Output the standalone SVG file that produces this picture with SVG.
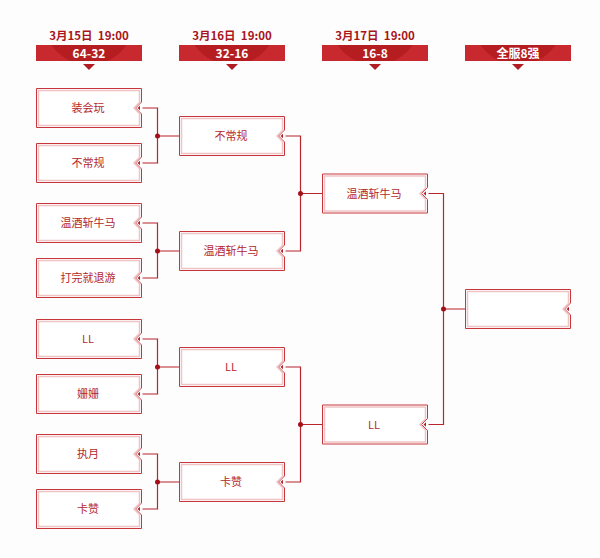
<svg xmlns="http://www.w3.org/2000/svg" xmlns:xlink="http://www.w3.org/1999/xlink" width="600" height="558" viewBox="0 0 600 558">
<style>
.bg{fill:#fdfdfd}
.outer{fill:#ffffff;stroke:#c6363b;stroke-width:1}
.inner{fill:none;stroke:#f0c3c5;stroke-width:1.5}
.tri{fill:#b3222a}
.lbl{font-family:"Noto Sans CJK SC","Noto Sans",sans-serif;font-size:11px;fill:#b3282d;text-anchor:middle}
.date{font-family:"Noto Sans CJK SC","Noto Sans",sans-serif;font-size:11.5px;font-weight:bold;fill:#a8151b;text-anchor:middle;white-space:pre}
.btxt{font-family:"Noto Sans CJK SC","Noto Sans",sans-serif;font-size:12px;font-weight:bold;fill:#ffffff;text-anchor:middle}
.bar{fill:#c8292e}
.barc{fill:#b51d21}
.arrow{fill:#b01d22}
.conn{fill:none;stroke:#b8252b;stroke-width:1.2}
.dot{fill:#a3101a}
</style>
<defs>
<g id="box">
<path class="outer" d="M0.5,0.5 H105.5 V14 L99.5,20 L105.5,26 V39.5 H0.5 Z"/>
<path class="inner" d="M2.5,2.5 H103.5 V14.5 L98,20 L103.5,25.5 V37.5 H2.5 Z"/>
<path class="tri" d="M101.5,20 L104,17.8 V22.2 Z"/>
</g>
<g id="banner">
<rect class="bar" x="0" y="0" width="106" height="16"/>
<path class="barc" d="M15.6,0 A45,45 0 0 0 34.5,16 H71.5 A45,45 0 0 0 90.4,0 Z"/>
<path class="arrow" d="M47,19 H59 L53,25 Z"/>
</g>
</defs>
<rect class="bg" x="0" y="0" width="600" height="558"/>

<g id="headers">
<g id="h1" transform="translate(36,45)">
<text class="date" x="53" y="-5.5" xml:space="preserve">3月15日  19:00</text>
<use xlink:href="#banner"/>
<text class="btxt" x="53" y="12.5">64-32</text>
</g>
<g id="h2" transform="translate(179,45)">
<text class="date" x="53" y="-5.5" xml:space="preserve">3月16日  19:00</text>
<use xlink:href="#banner"/>
<text class="btxt" x="53" y="12.5">32-16</text>
</g>
<g id="h3" transform="translate(322,45)">
<text class="date" x="53" y="-5.5" xml:space="preserve">3月17日  19:00</text>
<use xlink:href="#banner"/>
<text class="btxt" x="53" y="12.5">16-8</text>
</g>
<g id="h4" transform="translate(465,45)">
<use xlink:href="#banner"/>
<text class="btxt" x="53" y="12.5">全服8强</text>
</g>
</g>

<g id="connectors">
<path class="conn" d="M142.5,108 H157.5 V163 H142.5 M157.5,136 H179"/>
<path class="conn" d="M142.5,223 H157.5 V278 H142.5 M157.5,251 H179"/>
<path class="conn" d="M142.5,339 H157.5 V394 H142.5 M157.5,367 H179"/>
<path class="conn" d="M142.5,454 H157.5 V509 H142.5 M157.5,482 H179"/>
<path class="conn" d="M285.5,136 H300.5 V251 H285.5 M300.5,193.5 H322"/>
<path class="conn" d="M285.5,367 H300.5 V482 H285.5 M300.5,424.5 H322"/>
<path class="conn" d="M428.5,193.5 H443.5 V424.5 H428.5 M443.5,309 H465"/>
<circle class="dot" cx="157.5" cy="136" r="2.5"/>
<circle class="dot" cx="157.5" cy="251" r="2.5"/>
<circle class="dot" cx="157.5" cy="367" r="2.5"/>
<circle class="dot" cx="157.5" cy="482" r="2.5"/>
<circle class="dot" cx="300.5" cy="193.5" r="2.5"/>
<circle class="dot" cx="300.5" cy="424.5" r="2.5"/>
<circle class="dot" cx="443.5" cy="309" r="2.5"/>
</g>

<g id="r1-1" transform="translate(36,88)"><use xlink:href="#box"/><text class="lbl" x="52" y="24">装会玩</text></g>
<g id="r1-2" transform="translate(36,143)"><use xlink:href="#box"/><text class="lbl" x="52" y="24">不常规</text></g>
<g id="r1-3" transform="translate(36,203)"><use xlink:href="#box"/><text class="lbl" x="52" y="24">温酒斩牛马</text></g>
<g id="r1-4" transform="translate(36,258)"><use xlink:href="#box"/><text class="lbl" x="52" y="24">打完就退游</text></g>
<g id="r1-5" transform="translate(36,319)"><use xlink:href="#box"/><text class="lbl" x="52" y="24">LL</text></g>
<g id="r1-6" transform="translate(36,374)"><use xlink:href="#box"/><text class="lbl" x="52" y="24">姗姗</text></g>
<g id="r1-7" transform="translate(36,434)"><use xlink:href="#box"/><text class="lbl" x="52" y="24">执月</text></g>
<g id="r1-8" transform="translate(36,489)"><use xlink:href="#box"/><text class="lbl" x="52" y="24">卡赞</text></g>

<g id="r2-1" transform="translate(179,116)"><use xlink:href="#box"/><text class="lbl" x="52" y="24">不常规</text></g>
<g id="r2-2" transform="translate(179,231)"><use xlink:href="#box"/><text class="lbl" x="52" y="24">温酒斩牛马</text></g>
<g id="r2-3" transform="translate(179,347)"><use xlink:href="#box"/><text class="lbl" x="52" y="24">LL</text></g>
<g id="r2-4" transform="translate(179,462)"><use xlink:href="#box"/><text class="lbl" x="52" y="24">卡赞</text></g>

<g id="r3-1" transform="translate(322,173.5)"><use xlink:href="#box"/><text class="lbl" x="52" y="24">温酒斩牛马</text></g>
<g id="r3-2" transform="translate(322,404.5)"><use xlink:href="#box"/><text class="lbl" x="52" y="24">LL</text></g>

<g id="r4-1" transform="translate(465,289)"><use xlink:href="#box"/></g>
</svg>
